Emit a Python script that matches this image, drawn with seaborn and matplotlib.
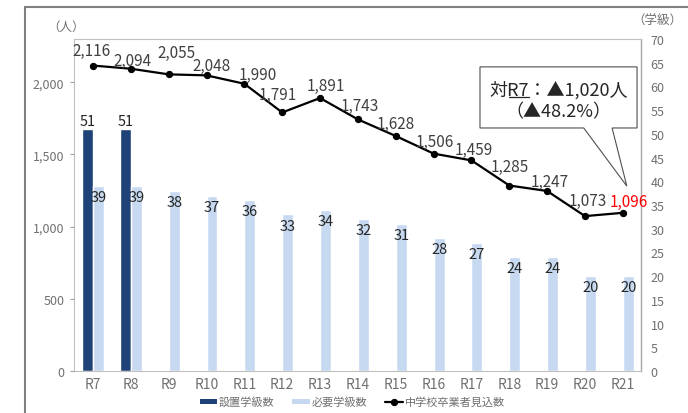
import numpy as np
import pandas as pd
import matplotlib.pyplot as plt
import seaborn as sns
from matplotlib.lines import Line2D
from matplotlib.patches import Polygon, Patch
from matplotlib.ticker import FuncFormatter

# データ
years = ['R7', 'R8', 'R9', 'R10', 'R11', 'R12', 'R13', 'R14',
         'R15', 'R16', 'R17', 'R18', 'R19', 'R20', 'R21']
placed_years = ['R7', 'R8']
placed = [51, 51]
needed = [39, 39, 38, 37, 36, 33, 34, 32, 31, 28, 27, 24, 24, 20, 20]
graduates = [2116, 2094, 2055, 2048, 1990, 1791, 1891, 1743,
             1628, 1506, 1459, 1285, 1247, 1073, 1096]
people_ticks = [0, 500, 1000, 1500, 2000]
class_ticks = list(range(0, 75, 5))

# ラベル位置の微調整 (pt)
label_offsets = [(-1, 11), (1, 6), (6, 16), (4, 7), (10, 7), (-3, 13), (4, 9), (1, 10),
                 (0, 9), (1, 9), (2, 8), (0, 14), (2, 7), (2, 11), (4, 8)]

dark = '#1f4378'
light = '#c6d9f0'
gray = '#707070'

sns.set_theme(style='white')
plt.rcParams['font.family'] = ['Noto Sans CJK JP', 'DejaVu Sans']

df = pd.DataFrame(
    [(y, v, '設置学級数') for y, v in zip(placed_years, placed)] +
    [(y, v, '必要学級数') for y, v in zip(years, needed)],
    columns=['年度', '学級数', '区分'])

fig = plt.figure(figsize=(6.88, 4.14), dpi=100)
ax = fig.add_axes([0.1076, 0.1014, 0.8241, 0.802])

sns.barplot(data=df, x='年度', y='学級数', hue='区分', order=years,
            hue_order=['設置学級数', '必要学級数'], palette=[dark, light],
            width=0.58, gap=0, dodge=True, errorbar=None, saturation=1,
            legend=False, ax=ax)

ax.bar_label(ax.containers[0], fmt='%d', padding=1, fontsize=10.5, color='#262626')
ax.bar_label(ax.containers[1], fmt='%d', padding=-13, fontsize=10.5, color='#262626')

ax2 = ax.twinx()

ax.set_ylim(0, 70)
ax.set_xlim(-0.5, 14.48)
ax.yaxis.tick_right()
ax.set_yticks(class_ticks)
ax.tick_params(axis='y', length=0, pad=7, labelsize=9, labelcolor=gray)
ax.tick_params(axis='x', length=0, pad=4, labelsize=10, labelcolor=gray)
ax.set_xlabel('')
ax.set_ylabel('')
for s in ax.spines.values():
    s.set_color('#c0c0c0')
    s.set_linewidth(0.8)
ax.spines['right'].set_color('#a6a6a6')
ax.spines['right'].set_linewidth(1.0)

xpos = np.arange(len(years))
sns.lineplot(x=xpos, y=graduates, ax=ax2, color='black', marker='o',
             markersize=4.5, markeredgecolor='black', linewidth=1.6,
             sort=False, legend=False)
ax2.set_ylim(0, 2300)
ax2.yaxis.tick_left()
ax2.yaxis.set_label_position('left')
ax2.set_yticks(people_ticks)
ax2.yaxis.set_major_formatter(FuncFormatter(lambda v, _: f'{int(v):,}'))
ax2.tick_params(axis='y', length=3, width=0.8, color='#a0a0a0', pad=4,
                labelsize=9, labelcolor=gray)
ax2.set_ylabel('')
for s in ax2.spines.values():
    s.set_visible(False)

for i, (v, off) in enumerate(zip(graduates, label_offsets)):
    col = '#ff0000' if i == len(graduates) - 1 else '#404040'
    ax2.annotate(f'{v:,}', (xpos[i], v), xytext=off, textcoords='offset points',
                 ha='center', va='center', fontsize=11, color=col)

# 吹き出し
callout = Polygon([(0.716, 0.916), (0.993, 0.916), (0.993, 0.732), (0.949, 0.732),
                   (0.975, 0.557), (0.899, 0.732), (0.716, 0.732)],
                  closed=True, transform=ax2.transAxes, facecolor='white',
                  edgecolor='#505050', linewidth=0.8, zorder=5)
ax2.add_patch(callout)
t1 = ax2.text(0.855, 0.849, '対R7：▲1,020人', transform=ax2.transAxes,
              ha='center', va='center', fontsize=13, color='#262626', zorder=6)
ax2.text(0.854, 0.783, '（▲48.2%）', transform=ax2.transAxes,
         ha='center', va='center', fontsize=13, color='#262626', zorder=6)

# 「R7」に下線
fig.canvas.draw()
r = fig.canvas.get_renderer()
bb = t1.get_window_extent(r)
prop = t1.get_fontproperties()
w0 = r.get_text_width_height_descent('対', prop, ismath=False)[0]
w1 = r.get_text_width_height_descent('対R7', prop, ismath=False)[0]
d = r.get_text_width_height_descent('対R7：▲1,020人', prop, ismath=False)[2]
uy = bb.y0 + d - 2
inv = fig.transFigure.inverted()
(ux0, uy0), (ux1, _) = inv.transform([(bb.x0 + w0 + 1, uy), (bb.x0 + w1, uy)])
fig.add_artist(Line2D([ux0, ux1], [uy0, uy0], color='#262626', lw=0.9, zorder=7))

# 単位
fig.text(0.096, 0.935, '（人）', ha='center', va='center', fontsize=9, color=gray)
fig.text(0.955, 0.949, '（学級）', ha='center', va='center', fontsize=9, color=gray)

# 外枠
fig.add_artist(Line2D([0.0363, 0.0363], [0.9807, 0.0], color='#808080', lw=1.5))
fig.add_artist(Line2D([0.0363, 1.0], [0.9807, 0.9807], color='#808080', lw=1.5))

handles = [Patch(facecolor=dark, edgecolor='none'),
           Patch(facecolor=light, edgecolor='none'),
           ax2.lines[0]]
fig.legend(handles, ['設置学級数', '必要学級数', '中学校卒業者見込数'],
           loc='center', bbox_to_anchor=(0.512, 0.027), ncol=3, frameon=False,
           fontsize=8, labelcolor=gray, handlelength=1.6, handleheight=0.35,
           handletextpad=0.15, columnspacing=1.6, numpoints=1)

fig.savefig('out.png', dpi=100)
